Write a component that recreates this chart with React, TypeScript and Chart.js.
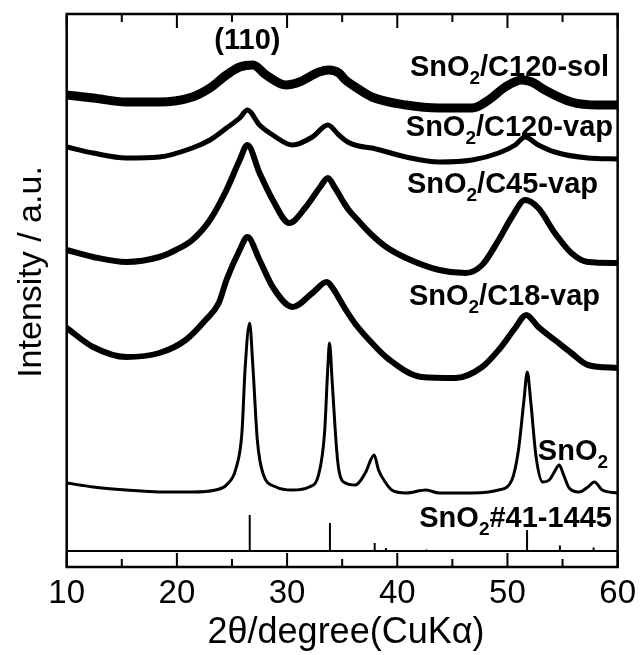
import { useEffect, useRef } from "react";
import { Chart, registerables } from "chart.js";
Chart.register(...registerables);

// 2θ (degree) and relative intensity (a.u., offset-stacked)
const solTheta = [10, 12.4, 15.4, 18.4, 21.4, 23, 24.5, 25.7, 26.9, 28.1, 29.9, 31.1, 32.9, 33.8, 34.7, 35.3, 36.2, 37.7, 40.8, 43.8, 46.8, 48.3, 49.8, 51.3, 52.2, 53.4, 55.8, 58.2, 60];
const solInt = [472, 469, 465, 465, 470, 479, 492, 500, 502, 492, 482, 485, 495, 497, 494, 487, 480, 470, 462, 459, 459, 467, 480, 487, 485, 477, 465, 462, 462];

const c120Theta = [10, 12.4, 15.4, 18.4, 21.4, 23, 24.5, 25.7, 26.4, 27.5, 28.7, 30.5, 32.3, 33.7, 34.7, 35.5, 36.5, 37.7, 40.8, 43.8, 46.8, 49.2, 50.7, 51.6, 52.8, 54.3, 57.3, 60];
const c120Int = [420, 414, 409, 410, 419, 427, 439, 449, 457, 442, 432, 422, 430, 442, 432, 425, 421, 419, 410, 405, 407, 414, 422, 430, 422, 415, 409, 408];

const c45Theta = [10, 12.4, 15.4, 18.4, 19.9, 21.4, 23, 24.5, 25.7, 26.4, 27.5, 28.7, 30.2, 31.7, 33, 33.7, 34.3, 35, 35.6, 36.5, 37.7, 39, 40.8, 43.8, 46.2, 47.7, 49.2, 50.4, 51.6, 52.8, 54.3, 55.8, 57.3, 60];
const c45Int = [317, 310, 305, 310, 317, 327, 347, 377, 407, 422, 394, 367, 344, 360, 380, 389, 380, 367, 357, 346, 332, 320, 309, 297, 294, 302, 327, 350, 367, 359, 334, 314, 305, 304];

const c18Theta = [10, 12.4, 15.4, 18.4, 20.8, 22.6, 23.8, 24.5, 25.7, 26.4, 27.5, 28.7, 30.5, 32.3, 33.6, 34.2, 34.8, 35.4, 36.2, 37.7, 39.2, 42.2, 45.3, 47.7, 49.2, 50.7, 51.7, 52.8, 54.3, 55.8, 57.3, 60];
const c18Int = [239, 220, 210, 214, 227, 247, 264, 287, 317, 330, 307, 280, 260, 274, 285, 278, 267, 256, 243, 224, 208, 190, 189, 200, 217, 239, 252, 240, 227, 214, 202, 199];

const refTheta = [10, 12.4, 15.4, 18.4, 21.4, 23.5, 24.5, 25.4, 25.9, 26.2, 26.6, 26.9, 27.3, 27.8, 29, 30.5, 32, 32.9, 33.4, 33.7, 33.85, 34.1, 34.5, 34.7, 35.3, 36.2, 37.1, 37.9, 38.3, 38.9, 39.5, 40.8, 42.6, 43.8, 46.8, 49.2, 50.4, 51, 51.5, 51.8, 52.1, 52.6, 53.2, 53.8, 54.2, 54.7, 55.1, 55.6, 56.5, 57.3, 57.9, 58.6, 60];
const refInt = [84, 80, 77, 75, 75, 77, 82, 100, 134, 200, 244, 200, 127, 94, 80, 77, 80, 94, 134, 200, 224, 184, 117, 97, 84, 82, 94, 112, 97, 85, 77, 74, 77, 74, 74, 77, 87, 117, 167, 195, 167, 110, 85, 87, 94, 102, 92, 79, 75, 80, 85, 77, 74];

// JCPDS #41-1445 stick pattern
const stickTheta = [26.61, 33.89, 37.95, 38.97, 42.64, 51.78, 54.76, 57.82];
const stickHeight = [36, 28, 8, 3, 1.5, 21, 5.5, 3.5];
const stickBase = 16;

const xTicks = [10, 20, 30, 40, 50, 60];

const FONT = "'Liberation Sans', Arial, Helvetica, sans-serif";

type Part = { t: string; sub?: boolean };

function drawChem(ctx: CanvasRenderingContext2D, parts: Part[], x: number, y: number, align: "right" | "center", size: number) {
  const main = `bold ${size}px ${FONT}`;
  const sub = `bold ${Math.round(size * 0.66)}px ${FONT}`;
  let w = 0;
  for (const p of parts) {
    ctx.font = p.sub ? sub : main;
    w += ctx.measureText(p.t).width;
  }
  let cx = align === "right" ? x - w : x - w / 2;
  ctx.textAlign = "left";
  ctx.textBaseline = "alphabetic";
  for (const p of parts) {
    ctx.font = p.sub ? sub : main;
    ctx.fillText(p.t, cx, p.sub ? y + size * 0.26 : y);
    cx += ctx.measureText(p.t).width;
  }
}

const framePlugin = {
  id: "frame",
  afterDraw(chart: any) {
    const { ctx, chartArea } = chart;
    const xs = chart.scales.x;
    const ys = chart.scales.y;
    const { left, right, top, bottom } = chartArea;
    ctx.save();
    ctx.strokeStyle = "#000";
    ctx.fillStyle = "#000";
    // inner separator line
    ctx.lineWidth = 2;
    const yb = ys.getPixelForValue(stickBase);
    ctx.beginPath();
    ctx.moveTo(left, yb);
    ctx.lineTo(right, yb);
    ctx.stroke();
    // ticks
    for (let v = 10; v <= 60; v += 5) {
      const px = xs.getPixelForValue(v);
      const len = v % 10 === 0 ? 14 : 8;
      ctx.beginPath();
      ctx.moveTo(px, bottom);
      ctx.lineTo(px, bottom - len);
      ctx.moveTo(px, top);
      ctx.lineTo(px, top + len);
      ctx.stroke();
    }
    // frame
    ctx.lineWidth = 2.5;
    ctx.strokeRect(left, top, right - left, bottom - top);

    // labels
    drawChem(ctx, [{ t: "(110)" }], xs.getPixelForValue(26.4), 49, "center", 29);
    drawChem(ctx, [{ t: "SnO" }, { t: "2", sub: true }, { t: "/C120-sol" }], 609, 76, "right", 29);
    drawChem(ctx, [{ t: "SnO" }, { t: "2", sub: true }, { t: "/C120-vap" }], 613, 136, "right", 29);
    drawChem(ctx, [{ t: "SnO" }, { t: "2", sub: true }, { t: "/C45-vap" }], 598, 193, "right", 29);
    drawChem(ctx, [{ t: "SnO" }, { t: "2", sub: true }, { t: "/C18-vap" }], 600, 305, "right", 29);
    drawChem(ctx, [{ t: "SnO" }, { t: "2", sub: true }], 608, 460, "right", 29);
    drawChem(ctx, [{ t: "SnO" }, { t: "2", sub: true }, { t: "#41-1445" }], 612, 527, "right", 29);

    // axis titles
    ctx.font = `36px ${FONT}`;
    ctx.textAlign = "center";
    ctx.textBaseline = "alphabetic";
    ctx.fillText("2\u03B8/degree(CuK\u03B1)", 346, 643);
    ctx.font = `34px ${FONT}`;
    ctx.save();
    ctx.translate(41, 272);
    ctx.rotate(-Math.PI / 2);
    ctx.fillText("Intensity / a.u.", 0, 0);
    ctx.restore();
    ctx.restore();
  },
};

function series(t: number[], v: number[]) {
  return t.map((x, i) => ({ x, y: v[i] }));
}

function sticks() {
  const out: { x: number; y: number | null }[] = [];
  stickTheta.forEach((x, i) => {
    out.push({ x, y: stickBase });
    out.push({ x, y: stickBase + stickHeight[i] });
    out.push({ x, y: null });
  });
  return out;
}

export default function App() {
  const ref = useRef<HTMLCanvasElement>(null);
  useEffect(() => {
    if (!ref.current) return;
    const common = { pointRadius: 0, borderColor: "#000", fill: false, borderJoinStyle: "round" as const, borderCapStyle: "round" as const };
    const chart = new Chart(ref.current, {
      type: "line",
      data: {
        datasets: [
          { ...common, label: "SnO2/C120-sol", data: series(solTheta, solInt), borderWidth: 9, cubicInterpolationMode: "monotone" },
          { ...common, label: "SnO2/C120-vap", data: series(c120Theta, c120Int), borderWidth: 5, cubicInterpolationMode: "monotone" },
          { ...common, label: "SnO2/C45-vap", data: series(c45Theta, c45Int), borderWidth: 6, cubicInterpolationMode: "monotone" },
          { ...common, label: "SnO2/C18-vap", data: series(c18Theta, c18Int), borderWidth: 6, cubicInterpolationMode: "monotone" },
          { ...common, label: "SnO2", data: series(refTheta, refInt), borderWidth: 3, cubicInterpolationMode: "monotone" },
          { ...common, label: "#41-1445", data: sticks(), borderWidth: 2, spanGaps: false, borderCapStyle: "butt" },
        ],
      },
      options: {
        animation: false,
        responsive: false,
        maintainAspectRatio: false,
        layout: { padding: { left: 66.7, top: 14, right: 23, bottom: 0 } },
        plugins: { legend: { display: false }, tooltip: { enabled: false } },
        scales: {
          x: {
            type: "linear",
            min: 10,
            max: 60,
            afterBuildTicks: (s: any) => {
              s.ticks = xTicks.map((v) => ({ value: v }));
            },
            afterFit: (s: any) => {
              s.height = 88;
            },
            grid: { display: false, drawTicks: false },
            border: { display: false },
            ticks: { color: "#000", font: { family: FONT, size: 33 }, padding: 7, maxRotation: 0 },
          },
          y: { type: "linear", min: 0, max: 553, display: false },
        },
      },
      plugins: [framePlugin],
    });
    return () => chart.destroy();
  }, []);
  return (
    <div style={{ position: "fixed", left: 0, top: 0, width: 643, height: 655, background: "#fff" }}>
      <canvas ref={ref} width={643} height={655} style={{ display: "block" }} />
    </div>
  );
}
